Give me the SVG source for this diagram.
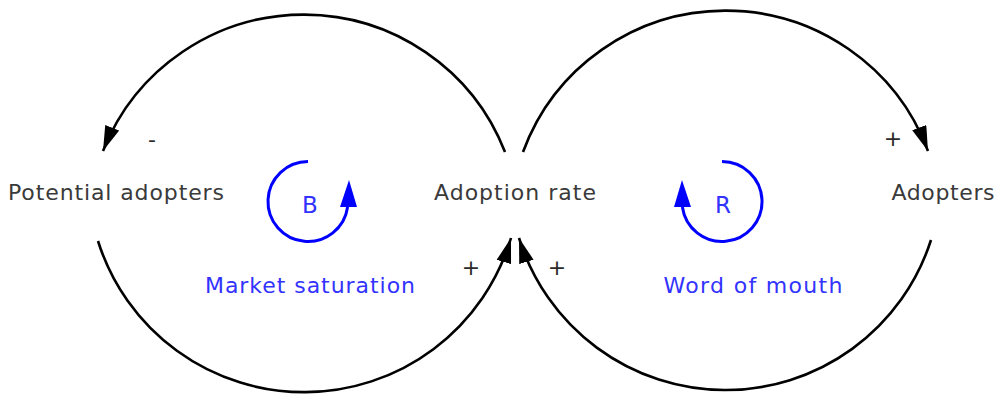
<svg xmlns="http://www.w3.org/2000/svg" width="998" height="394" viewBox="0 0 998 394">
<style>
.lbl{font-family:"DejaVu Sans","Liberation Sans",sans-serif;font-size:22px;fill:#3a3a3a;text-anchor:middle}
.loop{font-family:"DejaVu Sans","Liberation Sans",sans-serif;font-size:22px;fill:#3333ff;text-anchor:middle}
.tag{font-family:"DejaVu Sans","Liberation Sans",sans-serif;font-size:23px;fill:#3333ff;text-anchor:middle}
.sym{font-family:"DejaVu Sans","Liberation Sans",sans-serif;font-size:22px;fill:#2a2a2a;text-anchor:middle}
.link{fill:none;stroke:#000;stroke-width:2.6}
.ring{fill:none;stroke:#0000ff;stroke-width:3}
</style>
<defs>
<marker id="arr" markerUnits="userSpaceOnUse" markerWidth="26" markerHeight="16" refX="25" refY="7.5" orient="auto">
<path d="M0,0 L25,7.5 L0,15 z" fill="#000"/>
</marker>
</defs>
<rect width="998" height="394" fill="#fff"/>
<g id="connectors">
<path class="link" d="M505,152 A216,216 0 0,0 103,151" marker-end="url(#arr)"/>
<path class="link" d="M523,152 A216,216 0 0,1 928,151" marker-end="url(#arr)"/>
<path class="link" d="M98,241 A216,216 0 0,0 511,238" marker-end="url(#arr)"/>
<path class="link" d="M931,240 A216,216 0 0,1 519,238" marker-end="url(#arr)"/>
<text class="sym" x="152" y="147">-</text>
<text class="sym" x="893" y="146">+</text>
<text class="sym" x="471" y="275">+</text>
<text class="sym" x="557" y="275">+</text>
</g>
<g id="potential-adopters">
<text class="lbl" x="116" y="200" textLength="216" lengthAdjust="spacing">Potential adopters</text>
</g>
<g id="adoption-rate">
<text class="lbl" x="515" y="200" textLength="162" lengthAdjust="spacing">Adoption rate</text>
</g>
<g id="adopters">
<text class="lbl" x="943" y="200" textLength="103" lengthAdjust="spacing">Adopters</text>
</g>
<g id="loop-b">
<path class="ring" d="M308,161.5 A40,40 0 1,0 347.6,207"/>
<polygon points="340,207 357,207 349,180" fill="#0000ff"/>
<text class="tag" x="310" y="213">B</text>
<text class="loop" x="310" y="293" textLength="210" lengthAdjust="spacing">Market saturation</text>
</g>
<g id="loop-r">
<path class="ring" d="M722,161.5 A40,40 0 1,1 682.4,207"/>
<polygon points="674,207 691,207 682,180" fill="#0000ff"/>
<text class="tag" x="723" y="213">R</text>
<text class="loop" x="753" y="293" textLength="179" lengthAdjust="spacing">Word of mouth</text>
</g>
</svg>
